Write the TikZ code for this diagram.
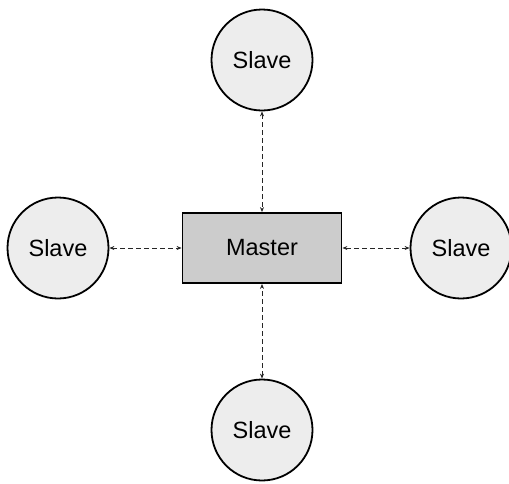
\documentclass[tikz,border=0pt]{standalone}
\usepackage{fontspec}
\setmainfont{Liberation Sans}
\usetikzlibrary{arrows.meta}
\begin{document}
\begin{tikzpicture}[x=1pt,y=-1pt,
  slavenode/.style={circle, draw=black, line width=1.8pt, fill=gray!14,
    minimum size=101pt, inner sep=0pt, font=\fontsize{23.5}{26}\selectfont},
  masternode/.style={rectangle, draw=black, line width=1.8pt, fill=gray!40,
    minimum width=159pt, minimum height=70pt, inner sep=0pt,
    font=\fontsize{23.5}{26}\selectfont},
  link/.style={draw=black!85, line width=0.8pt, dash pattern=on 5pt off 3pt,
    {Stealth[length=5pt,width=4pt]}-{Stealth[length=5pt,width=4pt]}}]
\useasboundingbox (0,0) rectangle (509,483);
\node[masternode] (master) at (262,248) {Master};
\node[slavenode] (top) at (262,60) {Slave};
\node[slavenode] (left) at (58,248) {Slave};
\node[slavenode] (right) at (461,248) {Slave};
\node[slavenode] (bottom) at (262,430) {Slave};
\draw[link] (top) -- (master);
\draw[link] (left) -- (master);
\draw[link] (right) -- (master);
\draw[link] (bottom) -- (master);
\end{tikzpicture}
\end{document}
